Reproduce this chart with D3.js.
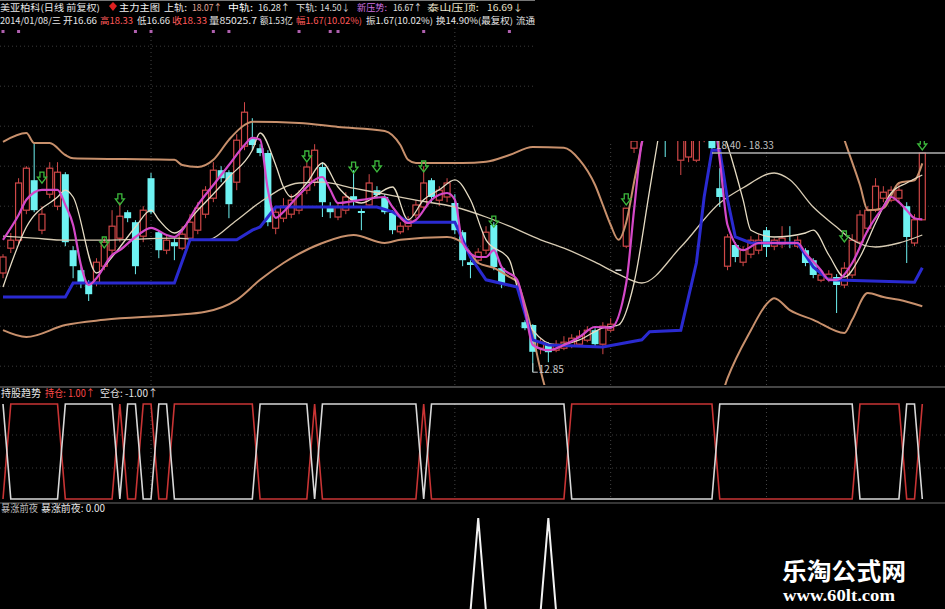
<!DOCTYPE html>
<html><head><meta charset="utf-8">
<script src="https://cdn.jsdelivr.net/npm/d3@7"></script>
<style>html,body{margin:0;padding:0;background:#000;overflow:hidden}</style>
</head><body><svg id="c" width="945" height="609"></svg>
<script>
// ---------- DATA ----------
const opens = [15.33,15.95,16.15,16.9,17.65,16.4,17.3,17.0,17.8,15.9, 15.4,15.1,15.1,15.5,15.9,16.2,16.85,16.6,16.25,17.7, 16.35,15.9,16.1,15.95,16.2,16.4,16.8,17.2,17.9,17.85, 17.6,18.5,18.7,18.45,18.33,16.45,16.7,16.8,16.9,17.4, 17.6,17.98,16.98,16.73,16.9,17.25,16.88,17.03,17.4,17.23, 16.83,16.36,16.5,16.78,16.98,17.65,17.15,17.23,17.08,16.35, 15.6,15.65,15.9,16.53,15.45,null,null,14.1,14.03,13.45, 13.55,13.4,13.45,13.5,13.55,13.65,13.9,13.55,13.9,15.4, 16.0,18.45,18.75,19.1,19.6,19.5,19.2,18.15,18.23,18.15, 18.8,18.9,17.45,15.5,16.03,15.6,15.8,15.9,16.4,16.0, 16.05,16.1,16.0,15.9,15.65,15.15,15.2,15.23,15.03,15.28, 16.1,16.45,16.9,17.2,17.15,17.2,17.0,16.08,16.66];
const highs = [15.8,16.33,17.7,18.0,18.58,17.0,18.1,18.1,17.85,16.0, 15.5,15.15,15.7,16.2,16.9,17.1,16.9,16.65,17.0,17.83, 16.4,16.3,16.2,16.5,16.8,17.1,17.5,18.1,18.0,17.9, 18.8,19.6,19.2,18.55,18.4,17.0,17.2,17.3,17.4,18.1, 18.55,18.1,17.1,17.1,17.35,17.9,16.95,17.8,17.5,17.3, 16.9,16.6,16.75,17.15,18.0,17.7,17.5,17.7,17.3,16.4, 15.65,15.95,16.5,16.6,15.5,null,null,14.15,14.05,13.7, 13.6,13.65,13.75,13.8,13.9,14.0,13.95,14.1,14.2,15.4, 16.95,18.7,19.3,19.9,20.2,19.8,19.7,19.6,19.3,19.2, 19.2,19.1,17.95,16.3,16.1,16.0,16.25,16.3,16.48,16.2, 16.5,16.5,16.25,15.95,15.7,15.35,15.4,15.3,15.6,16.3, 16.9,17.0,17.7,17.5,17.5,17.6,17.1,16.8,18.33];
const lows = [15.2,15.83,16.05,16.8,16.85,16.3,17.2,16.9,16.0,15.2, 14.95,14.63,15.0,15.4,15.8,16.1,16.6,15.3,16.1,16.8, 15.7,15.8,15.65,15.9,16.1,16.3,16.7,17.1,17.6,16.7, 17.4,18.4,18.4,18.25,16.5,16.3,16.6,16.7,16.8,17.3, 17.5,16.73,16.7,16.65,16.8,17.0,16.4,16.95,17.2,16.8, 16.3,16.3,16.4,16.7,16.9,17.1,17.0,17.1,16.3,15.5, 15.2,15.55,15.8,15.4,14.95,null,null,13.9,12.85,13.3, 13.1,13.35,13.4,13.45,13.5,13.6,13.5,13.3,13.85,15.4, 15.95,18.33,18.7,18.8,19.0,18.23,18.9,17.78,18.1,18.1, 18.6,18.3,16.98,15.4,15.6,15.5,15.7,15.8,15.73,15.9, 15.95,15.95,15.95,15.5,15.2,15.1,15.1,14.33,14.95,15.2, 16.0,16.35,16.85,17.1,17.1,17.1,15.58,16.0,16.66];
const closes = [15.73,16.15,17.58,17.95,16.9,16.8,17.95,17.85,16.1,15.5, 15.1,14.8,15.6,16.1,16.5,16.75,16.7,15.5,16.9,16.85, 15.9,16.15,16.0,16.3,16.6,16.95,17.4,17.9,17.7,17.05, 18.65,19.35,18.53,18.33,16.6,16.85,17.0,17.15,17.3,17.98, 18.4,17.1,16.85,16.98,17.23,17.15,16.83,17.58,17.28,16.85, 16.4,16.5,16.65,17.03,17.58,17.23,17.4,17.58,16.4,15.65, 15.53,15.85,16.35,15.48,15.08,null,null,13.95,13.36,13.6, 13.35,13.55,13.6,13.7,13.75,13.9,13.55,14.0,14.05,15.4, 16.95,18.63,19.2,19.7,19.4,19.0,19.6,19.3,19.0,18.9, 19.1,18.45,17.23,16.23,15.73,15.9,16.15,16.15,15.98,16.15, 16.2,16.05,16.15,15.58,15.28,15.28,15.3,15.03,15.45,16.15, 16.78,16.9,17.5,17.35,17.4,17.4,16.23,16.66,18.33];

// indicator lines: [bar index, price]
const upperBand = [[0,18.61],[3,18.83],[4,18.58],[6,18.58],[8,18.28],[9,18.2],[22,18.16],[23,18.03],[25,17.98],[27,18.16],[29,18.66],[31,19.03],[32,19.11],[38,19.08],[43,18.98],[49,18.88],[51,18.53],[52,18.16],[53,18.08],[59,18.08],[62,18.11],[65,18.28],[68,18.48],[72,18.46],[74,18.16],[76,17.53],[77,17.03],[78,16.53],[79,16.16],[80,16.6],[81,17.6],[82,18.6],[83,19.9],[85,21.0],[90,21.8],[100,21.6],[105,20.5],[108,18.66],[110,17.53],[111,16.9],[113,16.95],[115,17.58],[117,17.65],[118,18.07]];
const lowerBand = [[0,13.9],[3,13.73],[8,14.03],[13,14.16],[22,14.28],[26,14.36],[30,14.66],[33,15.16],[36,15.58],[41,16.08],[45,16.28],[49,16.08],[51,16.16],[57,16.23],[59,16.08],[61,15.58],[63,15.46],[65,15.23],[66,15.11],[67,14.53],[68,13.78],[69,12.9],[71,11.7],[77,10.9],[87,11.2],[92,12.15],[93,12.7],[96,13.9],[98,14.55],[99,14.7],[101,14.4],[104,14.16],[108,13.83],[109,14.16],[111,14.83],[113,14.73],[115,14.66],[118,14.5]];
const midBand = [[0,16.25],[4,16.2],[8,16.15],[13,16.15],[22,16.2],[26,16.15],[30,16.65],[33,17.1],[38,17.58],[41,17.6],[45,17.45],[49,17.3],[53,17.15],[58,16.98],[62,16.73],[65,16.5],[69,16.16],[72,15.95],[76,15.6],[79,15.3],[82,15.08],[87,15.98],[92,17.08],[95,17.46],[99,17.83],[101,17.66],[104,16.98],[107,16.48],[109,16.16],[112,15.98],[115,16.08],[118,16.28]];
const fastLine = [[0,14.98],[3,16.48],[7,17.23],[8,17.4],[9,17.23],[12,15.33],[14,15.73],[17,16.48],[19,16.9],[20,16.66],[22,16.33],[25,16.9],[29,17.73],[32,18.4],[33,18.83],[35,18.03],[36,17.48],[37,17.23],[39,17.58],[41,18.08],[43,17.48],[46,17.08],[50,17.48],[52,16.66],[54,17.16],[56,17.41],[58,17.66],[60,17.16],[62,16.16],[65,15.66],[66,14.98],[68,13.9],[71,13.53],[74,13.66],[77,13.96],[79,14.03],[81,15.08],[83,17.4],[84,18.58],[85,19.66],[88,19.9],[91,19.66],[93,18.53],[95,17.16],[96,16.4],[99,16.23],[103,16.33],[104,16.4],[106,15.78],[108,15.23],[110,15.73],[112,16.58],[114,17.33],[116,17.58],[118,17.78]];
const pressLine = [[0,16.16],[2,16.78],[3,17.16],[5,17.41],[7,17.41],[8,17.03],[9,16.53],[10,15.53],[11,15.03],[12,15.2],[14,15.78],[15,15.9],[17,16.23],[19,16.46],[21,16.28],[22,16.23],[23,16.4],[25,17.03],[27,17.53],[29,18.03],[31,18.53],[32,18.71],[33,18.66],[34,17.41],[35,16.71],[36,16.86],[38,17.28],[41,17.73],[42,17.41],[43,17.08],[46,17.16],[49,17.23],[50,16.98],[52,16.58],[53,16.66],[55,17.16],[57,17.33],[58,17.16],[59,16.08],[61,15.73],[62,15.73],[63,15.9],[64,15.48],[66,15.16],[67,14.41],[68,13.53],[70,13.4],[72,13.53],[74,13.73],[76,13.98],[78,13.96],[80,15.08],[81,16.9],[82,18.58],[84,19.4],[88,19.78],[91,19.4],[92,18.16],[93,16.53],[95,15.9],[97,16.08],[102,16.08],[103,15.83],[105,15.4],[106,15.16],[107,15.16],[109,15.58],[111,16.4],[113,16.98],[114,17.23],[115,17.1],[116,16.9],[117,16.7],[118,16.67]];
const blueLine = [[0,14.73],[8,14.73],[9,15.08],[22,15.08],[24,16.16],[30,16.16],[32,16.4],[33,16.48],[35,16.98],[48,16.98],[50,16.86],[52,16.6],[58,16.6],[59,16.16],[60,15.73],[62,15.16],[66,14.98],[68,13.66],[70,13.53],[77,13.48],[82,13.66],[83,13.86],[87,13.9],[89,15.58],[90,17.23],[91,18.4],[92,18.4],[93,17.16],[94,16.23],[96,16.08],[102,16.08],[104,15.48],[106,15.16],[117,15.1],[118,15.46]];
const greenArrows = [[5,17.7],[13,16.08],[15,17.16],[39,18.23],[45,17.95],[48,17.98],[54,17.98],[63,16.6],[80,17.16],[108,16.23],[118,18.53]];
const topMarks = [0,2,17,19,27,29,38,42,43,54,65];
const gridPrices = [13,14,15,16,17,18,19,20,21];
const monthBars = [19,58,78,98];
// 持股趋势: 1 = 持仓 (red on top), 0 = 空仓 (white on top)
const holdState = [0,1,1,1,1,1,1,1,0,0,0,0,0,0,0,1,0,0,1,1,0,0,1,1,1,1,1,1,1,1,1,1,1,0,0,0,0,0,0,0,1,0,0,0,0,0,0,0,0,0,0,0,0,0,1,0,0,0,0,0,0,0,0,0,0,0,0,0,0,0,0,0,0,1,1,1,1,1,1,1,1,1,1,1,1,1,1,1,1,1,1,1,0,0,0,0,0,0,0,0,0,0,0,0,0,0,0,0,0,0,1,1,1,1,1,1,0,0,1];
// 暴涨前夜 signal bars (value 1)
const surgeBars = [61,70];
const hiMark = {bar:91, hi:18.40, last:18.33};
const loMark = {bar:68, lo:12.85};
// header texts
const headRow1 = ['美亚柏科(日线 前复权)','主力主图','上轨:','18.07↑','中轨:','16.28↑','下轨:','14.50↓','新压势:','16.67↑','泰山压顶:','16.69↓'];
const headRow2 = ['2014/01/08/三','开16.66','高18.33','低16.66','收18.33','量85025.7','额1.53亿','幅1.67(10.02%)','振1.67(10.02%)','换14.90%(最复权)','流通'];

// ---------- LAYOUT / STYLE ----------
const row1Pos = [[0,100,'#e6e6e6'],[119,41,'#f0f0f0'],[164,23,'#f0f0f0'],[192,30,'#e0a898'],[228,25,'#ffffff'],[258,32,'#e8e8e8'],[296,21,'#e0e0e0'],[320,30,'#d8d8d8'],[357,30,'#d070e0'],[393,29,'#e0e0e0'],[427,52,'#e8e0c8'],[487,36,'#e8e0c8']];
const row2Pos = [[0,61,'#e6e6e6'],[63,34,'#e6e6e6'],[100,33,'#ff5a5a'],[137,33,'#e6e6e6'],[172,35,'#ff5a5a'],[209,48,'#e6e6e6'],[260,33,'#e6e6e6'],[296,66,'#ff5a5a'],[366,67,'#e6e6e6'],[436,77,'#e6e6e6'],[516,19,'#e6e6e6']];

const W=945,H=609, FONT="'Noto Sans CJK SC','Noto Sans',sans-serif";
const svg=d3.select('#c');
svg.append('rect').attr('width',W).attr('height',H).attr('fill','#000');
const N=closes.length;
const x=d3.scaleLinear().domain([0,N-1]).range([3,922.3]);
const y=d3.scaleLinear().domain([12.53,21.455]).range([385,28]);
const y2=d3.scaleLinear().domain([0,1]).range([499,404]);
const y3=d3.scaleLinear().domain([0,1]).range([612,518]);

svg.append('clipPath').attr('id','mc').append('rect').attr('x',0).attr('y',28).attr('width',W).attr('height',357);
const main=svg.append('g').attr('clip-path','url(#mc)');

main.selectAll('.hg').data(gridPrices).join('line').attr('x1',0).attr('x2',W)
  .attr('y1',d=>y(d)).attr('y2',d=>y(d)).attr('stroke','#3a3a3a').attr('stroke-dasharray','1,3');
main.selectAll('.vg').data(monthBars).join('line').attr('x1',d=>x(d)).attr('x2',d=>x(d))
  .attr('y1',28).attr('y2',385).attr('stroke','#444').attr('stroke-dasharray','1,3');

// candles
const bars=d3.range(N).filter(i=>opens[i]!=null);
const cg=main.append('g');
bars.forEach(i=>{
  const o=opens[i],c=closes[i],h=highs[i],l=lows[i],cx=x(i);
  if(c===o){
    cg.append('line').attr('x1',cx-3).attr('x2',cx+3).attr('y1',y(c)).attr('y2',y(c)).attr('stroke','#e0e0e0').attr('stroke-width',1.5);
    return;
  }
  if(c>o){
    const col='#d04848';
    cg.append('line').attr('x1',cx).attr('x2',cx).attr('y1',y(h)).attr('y2',y(c)).attr('stroke',col);
    cg.append('line').attr('x1',cx).attr('x2',cx).attr('y1',y(o)).attr('y2',y(l)).attr('stroke',col);
    cg.append('rect').attr('x',cx-3).attr('y',y(c)).attr('width',6).attr('height',Math.max(1,y(o)-y(c)))
      .attr('fill','#000').attr('stroke',col).attr('stroke-width',1.2);
  } else {
    const col='#6ef2f2';
    cg.append('line').attr('x1',cx).attr('x2',cx).attr('y1',y(h)).attr('y2',y(l)).attr('stroke',col);
    cg.append('rect').attr('x',cx-3.5).attr('y',y(o)).attr('width',7).attr('height',Math.max(1.5,y(c)-y(o)))
      .attr('fill',col);
  }
});

const lineM=d3.line().x(d=>x(d[0])).y(d=>y(d[1])).curve(d3.curveMonotoneX);
const lineL=d3.line().x(d=>x(d[0])).y(d=>y(d[1]));
main.append('path').attr('d',lineM(upperBand)).attr('fill','none').attr('stroke','#c8906c').attr('stroke-width',2);
main.append('path').attr('d',lineM(lowerBand)).attr('fill','none').attr('stroke','#c8906c').attr('stroke-width',2);
main.append('path').attr('d',lineM(midBand)).attr('fill','none').attr('stroke','#d8ccb4').attr('stroke-width',1.3);
main.append('path').attr('d',lineM(fastLine)).attr('fill','none').attr('stroke','#e6dcc4').attr('stroke-width',1.3);
main.append('path').attr('d',lineL(blueLine)).attr('fill','none').attr('stroke','#2a2ad0').attr('stroke-width',3);
main.append('path').attr('d',lineM(pressLine)).attr('fill','none').attr('stroke','#d448c8').attr('stroke-width',2.2);

const arrowPath='M-2,-6 L2,-6 L2,-1 L4.5,-1 L0,5 L-4.5,-1 L-2,-1 Z';
main.selectAll('.ga').data(greenArrows).join('path').attr('d',arrowPath)
  .attr('transform',d=>`translate(${x(d[0])},${y(d[1])})`).attr('fill','none').attr('stroke','#3cb83c').attr('stroke-width',1.3);

const lx=x(loMark.bar), ly=y(loMark.lo);
main.append('path').attr('d',`M${lx},${ly-9} L${lx},${ly} L${lx+5},${ly}`).attr('fill','none').attr('stroke','#c8c8c8');
svg.append('text').attr('x',lx+6).attr('y',ly+1).attr('font-family',FONT).attr('font-size',10).attr('fill','#c8c8c8').text(loMark.lo.toFixed(2));

// header
const hdr=svg.append('g').attr('font-family',FONT).attr('font-size',9);
svg.append('line').attr('x1',0).attr('x2',535).attr('y1',0.5).attr('y2',0.5).attr('stroke','#777');
hdr.selectAll('.r1').data(headRow1).join('text').attr('x',(d,i)=>row1Pos[i][0]).attr('y',11)
  .attr('textLength',(d,i)=>row1Pos[i][1]).attr('lengthAdjust','spacingAndGlyphs').attr('fill',(d,i)=>row1Pos[i][2]).text(d=>d);
hdr.selectAll('.r2').data(headRow2).join('text').attr('x',(d,i)=>row2Pos[i][0]).attr('y',24)
  .attr('textLength',(d,i)=>row2Pos[i][1]).attr('lengthAdjust','spacingAndGlyphs').attr('fill',(d,i)=>row2Pos[i][2]).text(d=>d);
svg.append('path').attr('d','M113,2 L117,6 L113,11 L109,6 Z').attr('fill','#e02020');
svg.selectAll('.tm').data(topMarks).join('rect').attr('x',d=>x(d)-1.5).attr('y',30).attr('width',3).attr('height',3).attr('fill','#b060b0');

svg.append('rect').attr('x',535).attr('y',0).attr('width',W-535).attr('height',141).attr('fill','#000');

svg.append('line').attr('x1',x(hiMark.bar)).attr('x2',W).attr('y1',y(hiMark.last)).attr('y2',y(hiMark.last)).attr('stroke','#b0b0b0').attr('stroke-width',1.5);
svg.append('text').attr('x',x(hiMark.bar)+4).attr('y',y(hiMark.hi)-1).attr('font-family',FONT).attr('font-size',10).attr('fill','#c0c0c0')
  .text(hiMark.hi.toFixed(2)+' - '+hiMark.last.toFixed(2));

svg.append('line').attr('x1',0).attr('x2',W).attr('y1',387).attr('y2',387).attr('stroke','#8a8a8a');
svg.append('line').attr('x1',0).attr('x2',W).attr('y1',503).attr('y2',503).attr('stroke','#6a6a6a');

// panel 2
const p2=svg.append('g');
[435,468].forEach(v=>p2.append('line').attr('x1',0).attr('x2',W).attr('y1',v).attr('y2',v).attr('stroke','#3a3a3a').attr('stroke-dasharray','1,3'));
p2.selectAll('.vg2').data(monthBars).join('line').attr('x1',d=>x(d)).attr('x2',d=>x(d)).attr('y1',404).attr('y2',499).attr('stroke','#444').attr('stroke-dasharray','1,3');
const l2=d3.line().x((d,i)=>x(i)).y(d=>y2(d));
p2.append('path').attr('d',l2(holdState)).attr('fill','none').attr('stroke','#c83434').attr('stroke-width',1.6);
p2.append('path').attr('d',l2(holdState.map(v=>1-v))).attr('fill','none').attr('stroke','#d8d8d8').attr('stroke-width',1.6);
const lab2=[['持股趋势',1,40,'#e6e6e6'],['持仓: 1.00↑',45,50,'#ff4a4a'],['空仓: -1.00↑',100,58,'#e6e6e6']];
svg.selectAll('.lb2').data(lab2).join('text').attr('x',d=>d[1]).attr('y',397).attr('font-family',FONT).attr('font-size',10)
  .attr('textLength',d=>d[2]).attr('lengthAdjust','spacingAndGlyphs').attr('fill',d=>d[3]).text(d=>d[0]);

// panel 3
const surge=d3.range(N).map(i=>surgeBars.includes(i)?1:0);
const l3=d3.line().x((d,i)=>x(i)).y(d=>y3(d));
svg.append('path').attr('d',l3(surge)).attr('fill','none').attr('stroke','#f2f2f2').attr('stroke-width',2);
const lab3=[['暴涨前夜',1,37,'#bdbdbd'],['暴涨前夜: 0.00',41,64,'#e6e6e6']];
svg.selectAll('.lb3').data(lab3).join('text').attr('x',d=>d[1]).attr('y',512).attr('font-family',FONT).attr('font-size',10)
  .attr('textLength',d=>d[2]).attr('lengthAdjust','spacingAndGlyphs').attr('fill',d=>d[3]).text(d=>d[0]);

// watermark
svg.append('text').attr('x',782).attr('y',580).attr('font-family',FONT).attr('font-weight','bold').attr('font-size',24)
  .attr('textLength',124).attr('lengthAdjust','spacingAndGlyphs').attr('fill','#fff').text('乐淘公式网');
svg.append('text').attr('x',783).attr('y',601).attr('font-family',"'Liberation Serif',serif").attr('font-weight','bold').attr('font-size',16)
  .attr('textLength',112).attr('lengthAdjust','spacingAndGlyphs').attr('fill','#fff').text('www.60lt.com');
</script></body></html>
